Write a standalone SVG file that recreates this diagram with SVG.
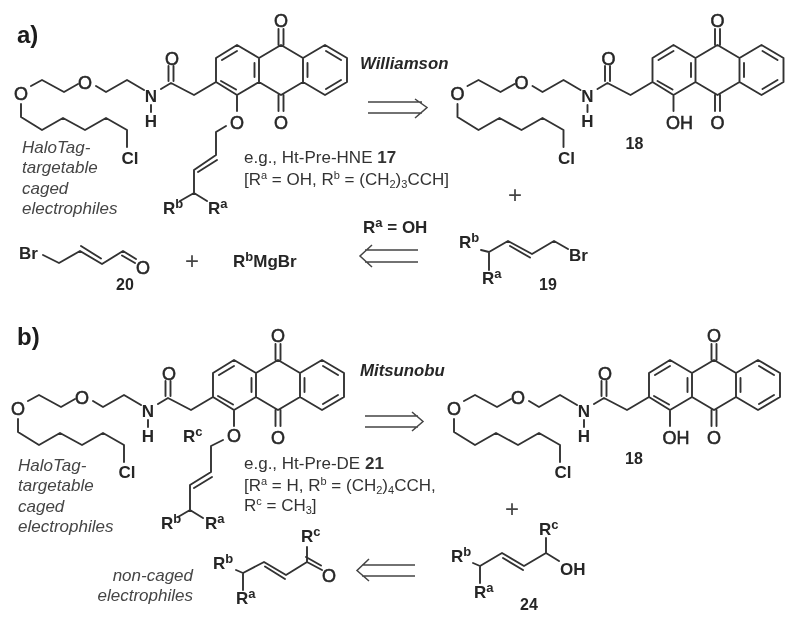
<svg xmlns="http://www.w3.org/2000/svg" width="800" height="626" viewBox="0 0 800 626">
<style>
text{font-family:"Liberation Sans",Arial,sans-serif;fill:#262626}
.b{stroke:#333;stroke-width:1.9;fill:none;stroke-linejoin:round;stroke-linecap:round}
.a{stroke:#444;stroke-width:1.5;fill:none;stroke-linejoin:miter}
.l{font-size:17px;font-weight:bold;text-anchor:middle}
.o{font-size:18px;text-anchor:middle;stroke:#262626;stroke-width:.55}
.s{font-size:17px;font-weight:bold}
.n{font-size:16px;font-weight:bold;text-anchor:middle}
.h{font-size:24px;font-weight:bold;fill:#1a1a1a}
.i{font-size:17px;font-style:italic;fill:#444}
.r{font-size:16.800px;font-style:italic;font-weight:bold}
.t{font-size:17px;fill:#333}
.p{font-size:24px;text-anchor:middle;fill:#444}
</style>
<defs><filter id="soft" x="0" y="0" width="100%" height="100%"><feGaussianBlur stdDeviation="0.45"/></filter></defs>
<g filter="url(#soft)">
<rect width="800" height="626" fill="#fff"/>
<text class="h" x="17" y="43">a)</text>
<text class="h" x="17" y="345">b)</text>

<g id="ht-pre-hne">
<path class="b" d="M21 104V117L42 130 63 118 85 130 106 118 127 130V147M31 86 42 80 64 92 78 84M96 86 106 92 127 80 144 90M151 105V112M161 89 171 83 194 95 216 82V58L237 45 259 58 281 45 303 58 325 45 347 58V82L325 95 303 82 281 95 259 82 237 95 216 82M259 58V82M303 58V82M254.500 63V77M307.500 63V77M222 60 237 51M326 51 341 60M341 80 326 89M221 81 236 89.500M168.500 66V81M173.500 66V81M278.500 29V45M283.500 29V45M278.500 95V111M283.500 95V111M237 95V111M226 126 216 132V155L194 170V193L180 201M194 193 207 201M217 160 198 172"/>
<text class="o" x="21" y="99.500">O</text><text class="o" x="85" y="88.500">O</text><text class="l" x="151" y="102">N</text><text class="l" x="151" y="127">H</text><text class="o" x="172" y="64.500">O</text><text class="o" x="281" y="27">O</text><text class="o" x="281" y="128.500">O</text><text class="o" x="237" y="128.500">O</text><text class="l" x="130" y="164">Cl</text>
<text class="s" x="163" y="214">R<tspan font-size="13" dy="-6">b</tspan></text><text class="s" x="208" y="214">R<tspan font-size="13" dy="-6">a</tspan></text>
</g>
<text class="i"><tspan x="22" y="153">HaloTag-</tspan><tspan x="22" y="173">targetable</tspan><tspan x="22" y="194">caged</tspan><tspan x="22" y="214">electrophiles</tspan></text>
<text class="t"><tspan x="244" y="163">e.g., Ht-Pre-HNE </tspan><tspan font-weight="bold">17</tspan><tspan x="244" y="185">[R</tspan><tspan font-size="11" dy="-6">a</tspan><tspan dy="6"> = OH, R</tspan><tspan font-size="11" dy="-6">b</tspan><tspan dy="6"> = (CH</tspan><tspan font-size="11" dy="3">2</tspan><tspan dy="-3">)</tspan><tspan font-size="11" dy="3">3</tspan><tspan dy="-3">CCH]</tspan></text>
<text class="r" x="360" y="69">Williamson</text>

<g id="compound-18a" transform="translate(436.500 0)">
<path class="b" d="M21 104V117L42 130 63 118 85 130 106 118 127 130V147M31 86 42 80 64 92 78 84M96 86 106 92 127 80 144 90M151 105V112M161 89 171 83 194 95 216 82V58L237 45 259 58 281 45 303 58 325 45 347 58V82L325 95 303 82 281 95 259 82 237 95 216 82M259 58V82M303 58V82M254.500 63V77M307.500 63V77M222 60 237 51M326 51 341 60M341 80 326 89M221 81 236 89.500M168.500 66V81M173.500 66V81M278.500 29V45M283.500 29V45M278.500 95V111M283.500 95V111M237 95V111"/>
<text class="o" x="21" y="99.500">O</text><text class="o" x="85" y="88.500">O</text><text class="l" x="151" y="102">N</text><text class="l" x="151" y="127">H</text><text class="o" x="172" y="64.500">O</text><text class="o" x="281" y="27">O</text><text class="o" x="281" y="128.500">O</text><text class="o" x="243" y="128.500">OH</text><text class="l" x="130" y="164">Cl</text>
<text class="n" x="198" y="149">18</text>
</g>
<g id="arrows">
<path class="a" d="M368 102H422M368 113H422M415 99 427 107.500 415 118"/>
<path class="a" d="M418 250H365M418 262H365M372 245 360 256 372 267"/>
<path class="a" d="M365 416H418M365 427H418M412 412 423 421.500 412 431"/>
<path class="a" d="M415 565H362M415 576H362M369 559 357 570.500 369 581"/>
</g>
<text class="p" x="515" y="203">+</text>
<text class="s" x="363" y="233">R<tspan font-size="13" dy="-6">a</tspan><tspan dy="6"> = OH</tspan></text>

<g id="compound-19">
<path class="b" d="M481 250 489 252 508 241 532 254 554 241 568 249M489 252V270M510 246 530 257.500"/>
<text class="s" x="459" y="248">R<tspan font-size="13" dy="-6">b</tspan></text><text class="s" x="482" y="284">R<tspan font-size="13" dy="-6">a</tspan></text><text class="s" x="569" y="261">Br</text><text class="n" x="548" y="290">19</text>
</g>
<g id="compound-20">
<path class="b" d="M43 255 59 263 80 251 102 264 123 251 136 259M81 246 101 258.500M122 255.500 135 263"/>
<text class="s" x="19" y="259">Br</text><text class="o" x="143" y="274">O</text><text class="n" x="125" y="290">20</text>
</g>
<text class="p" x="192" y="269">+</text>
<text class="s" x="233" y="267">R<tspan font-size="13" dy="-6">b</tspan><tspan dy="6">MgBr</tspan></text>

<g id="ht-pre-de" transform="translate(-3 315)">
<path class="b" d="M21 104V117L42 130 63 118 85 130 106 118 127 130V147M31 86 42 80 64 92 78 84M96 86 106 92 127 80 144 90M151 105V112M161 89 171 83 194 95 216 82V58L237 45 259 58 281 45 303 58 325 45 347 58V82L325 95 303 82 281 95 259 82 237 95 216 82M259 58V82M303 58V82M254.500 63V77M307.500 63V77M222 60 237 51M326 51 341 60M341 80 326 89M221 81 236 89.500M168.500 66V81M173.500 66V81M278.500 29V45M283.500 29V45M278.500 95V111M283.500 95V111M237 95V111M226 125 214 131V157L193 170V195L181 202M193 195 206 203M215 162 197 173"/>
<text class="o" x="21" y="99.500">O</text><text class="o" x="85" y="88.500">O</text><text class="l" x="151" y="102">N</text><text class="l" x="151" y="127">H</text><text class="o" x="172" y="64.500">O</text><text class="o" x="281" y="27">O</text><text class="o" x="281" y="128.500">O</text><text class="o" x="237" y="126.500">O</text><text class="l" x="130" y="163">Cl</text>
<text class="s" x="186" y="127">R<tspan font-size="13" dy="-6">c</tspan></text>
<text class="s" x="164" y="214">R<tspan font-size="13" dy="-6">b</tspan></text><text class="s" x="208" y="214">R<tspan font-size="13" dy="-6">a</tspan></text>
</g>
<text class="i"><tspan x="18" y="471">HaloTag-</tspan><tspan x="18" y="491">targetable</tspan><tspan x="18" y="512">caged</tspan><tspan x="18" y="532">electrophiles</tspan></text>
<text class="t"><tspan x="244" y="469">e.g., Ht-Pre-DE </tspan><tspan font-weight="bold">21</tspan><tspan x="244" y="491">[R</tspan><tspan font-size="11" dy="-6">a</tspan><tspan dy="6"> = H, R</tspan><tspan font-size="11" dy="-6">b</tspan><tspan dy="6"> = (CH</tspan><tspan font-size="11" dy="3">2</tspan><tspan dy="-3">)</tspan><tspan font-size="11" dy="3">4</tspan><tspan dy="-3">CCH,</tspan><tspan x="244" y="511">R</tspan><tspan font-size="11" dy="-6">c</tspan><tspan dy="6"> = CH</tspan><tspan font-size="11" dy="3">3</tspan><tspan dy="-3">]</tspan></text>
<text class="r" x="360" y="376">Mitsunobu</text>

<g id="compound-18b" transform="translate(433 315)">
<path class="b" d="M21 104V117L42 130 63 118 85 130 106 118 127 130V147M31 86 42 80 64 92 78 84M96 86 106 92 127 80 144 90M151 105V112M161 89 171 83 194 95 216 82V58L237 45 259 58 281 45 303 58 325 45 347 58V82L325 95 303 82 281 95 259 82 237 95 216 82M259 58V82M303 58V82M254.500 63V77M307.500 63V77M222 60 237 51M326 51 341 60M341 80 326 89M221 81 236 89.500M168.500 66V81M173.500 66V81M278.500 29V45M283.500 29V45M278.500 95V111M283.500 95V111M237 95V111"/>
<text class="o" x="21" y="99.500">O</text><text class="o" x="85" y="88.500">O</text><text class="l" x="151" y="102">N</text><text class="l" x="151" y="127">H</text><text class="o" x="172" y="64.500">O</text><text class="o" x="281" y="27">O</text><text class="o" x="281" y="128.500">O</text><text class="o" x="243" y="128.500">OH</text><text class="l" x="130" y="163">Cl</text>
<text class="n" x="201" y="149">18</text>
</g>
<text class="p" x="512" y="517">+</text>
<text class="i" text-anchor="end"><tspan x="193" y="581">non-caged</tspan><tspan x="193" y="601">electrophiles</tspan></text>

<g id="enone">
<path class="b" d="M236 570 243 573 264 562 286 575 307 562 322 570M243 573V590M265 566.500 285 579M306 557 321 565.500M307 562V547"/>
<text class="s" x="213" y="569">R<tspan font-size="13" dy="-6">b</tspan></text><text class="s" x="236" y="604">R<tspan font-size="13" dy="-6">a</tspan></text><text class="s" x="301" y="542">R<tspan font-size="13" dy="-6">c</tspan></text><text class="o" x="329" y="582">O</text>
</g>
<g id="compound-24">
<path class="b" d="M473 563 480 566 502 553 524 566 546 553 559 561M480 566V583M503 558 523 570M546 553V538"/>
<text class="s" x="451" y="562">R<tspan font-size="13" dy="-6">b</tspan></text><text class="s" x="474" y="598">R<tspan font-size="13" dy="-6">a</tspan></text><text class="s" x="539" y="535">R<tspan font-size="13" dy="-6">c</tspan></text><text class="s" x="560" y="575">OH</text><text class="n" x="529" y="610">24</text>
</g>
</g>
</svg>
